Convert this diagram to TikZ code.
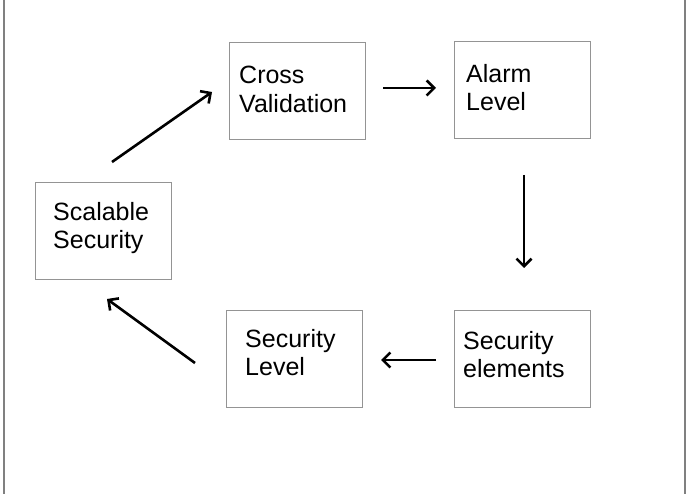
\documentclass[tikz,border=0pt]{standalone}
\usepackage{fontspec}
\setmainfont{Liberation Sans}
\usetikzlibrary{arrows.meta}
\begin{document}
\begin{tikzpicture}[x=1pt,y=-1pt,
  box/.style={draw=black!42,line width=1.3pt,minimum width=136pt,minimum height=97pt,inner sep=0pt,anchor=north west},
  txt/.style={anchor=north west,inner sep=0pt,align=left,font=\fontsize{25}{28.5}\selectfont},
  arr/.style={line width=2.6pt,-{Straight Barb[length=7.5pt,width=15pt,line width=2.6pt]}},
  frame/.style={draw=black!50,line width=1.2pt}]
\useasboundingbox (0,0) rectangle (689,494);
\draw[frame] (4,0) -- (4,494);
\draw[frame] (685,0) -- (685,494);
% boxes
\node[box] (cv) at (229,42) {};
\node[box] (al) at (454,41) {};
\node[box] (ss) at (35,182) {};
\node[box] (sl) at (226,310) {};
\node[box] (se) at (454,310) {};
% texts
\node[txt] (tcv) at (239,66) {Cross\\Validation};
\node[txt] (tal) at (466,64) {Alarm\\Level};
\node[txt] (tss) at (53,202) {Scalable\\Security};
\node[txt] (tsl) at (245,329) {Security\\Level};
\node[txt] (tse) at (463,331) {Security\\elements};
% arrow endpoints
\coordinate (a1s) at (112,162); \coordinate (a1e) at (212,92);
\coordinate (a2s) at (383,88);  \coordinate (a2e) at (436,88);
\coordinate (a3s) at (524,175); \coordinate (a3e) at (524,268);
\coordinate (a4s) at (436,360); \coordinate (a4e) at (381,360);
\coordinate (a5s) at (195,363); \coordinate (a5e) at (107,299);
\draw[arr] (a1s) -- (a1e);
\draw[arr] (a2s) -- (a2e);
\draw[arr] (a3s) -- (a3e);
\draw[arr] (a4s) -- (a4e);
\draw[arr] (a5s) -- (a5e);
\end{tikzpicture}
\end{document}
